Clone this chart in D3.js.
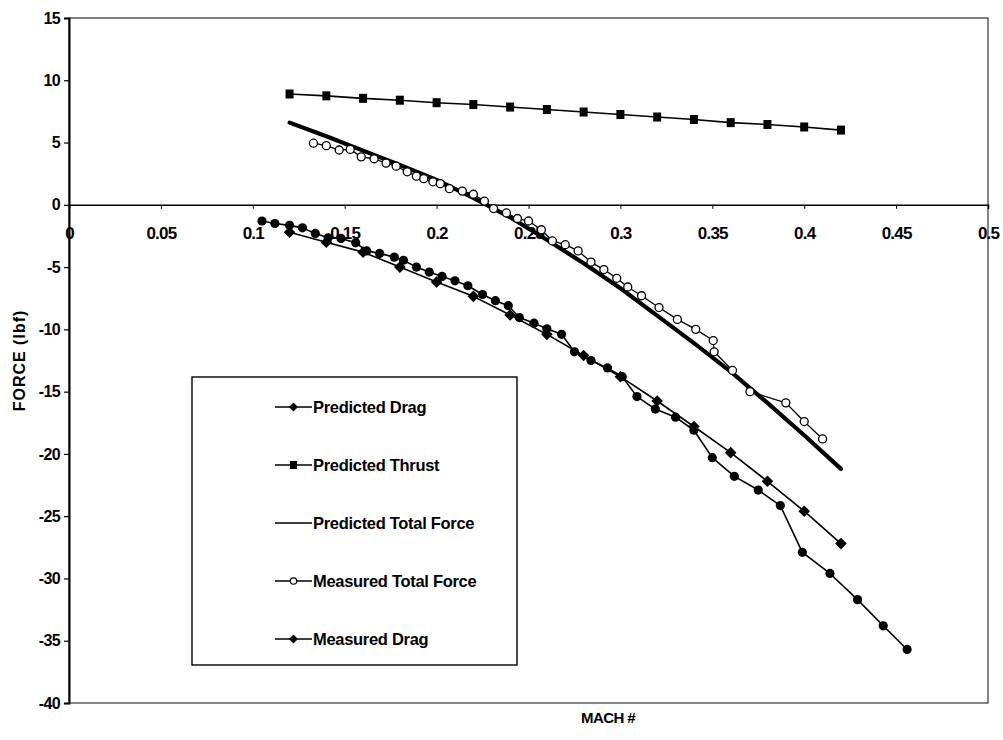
<!DOCTYPE html>
<html>
<head>
<meta charset="utf-8">
<script src="https://cdn.jsdelivr.net/npm/d3@7"></script>
<style>
  html, body { margin: 0; padding: 0; background: #fff; }
  svg text { font-family: "Liberation Sans", Arial, sans-serif; font-weight: bold; fill: #000; }
</style>
</head>
<body>
<div id="chart"></div>
<script>
// ---- data ----
const xTicks = [0, 0.05, 0.1, 0.15, 0.2, 0.25, 0.3, 0.35, 0.4, 0.45, 0.5];
const xTickLabels = ["0", "0.05", "0.1", "0.15", "0.2", "0.25", "0.3", "0.35", "0.4", "0.45", "0.5"];
const yTicks = [15, 10, 5, 0, -5, -10, -15, -20, -25, -30, -35, -40];
const yTickLabels = ["15", "10", "5", "0", "-5", "-10", "-15", "-20", "-25", "-30", "-35", "-40"];

const predMach = [0.12, 0.14, 0.16, 0.18, 0.20, 0.22, 0.24, 0.26, 0.28, 0.30, 0.32, 0.34, 0.36, 0.38, 0.40, 0.42];
const predictedThrust = [8.9, 8.75, 8.55, 8.4, 8.2, 8.05, 7.85, 7.65, 7.45, 7.25, 7.05, 6.85, 6.6, 6.45, 6.25, 6.0];
const predictedDrag = [-2.2, -3.0, -3.8, -5.0, -6.2, -7.35, -8.85, -10.4, -12.1, -13.8, -15.75, -17.8, -19.9, -22.2, -24.6, -27.2];
const predictedTotal = [6.6, 5.5, 4.35, 3.2, 2.0, 0.55, -1.0, -2.8, -4.7, -6.7, -8.9, -11.1, -13.4, -15.9, -18.5, -21.2];

const measTotalMach = [0.133, 0.140, 0.147, 0.153, 0.159, 0.166, 0.1725, 0.178, 0.184, 0.189, 0.193, 0.198, 0.202, 0.207, 0.214, 0.220, 0.226, 0.231, 0.238, 0.244, 0.250, 0.257, 0.263, 0.270, 0.277, 0.284, 0.291, 0.298, 0.304, 0.3115, 0.321, 0.331, 0.341, 0.3505, 0.351, 0.361, 0.3705, 0.390, 0.400, 0.410];
const measuredTotal = [4.95, 4.75, 4.4, 4.45, 3.85, 3.7, 3.35, 3.1, 2.65, 2.3, 2.1, 1.85, 1.7, 1.3, 1.1, 0.85, 0.3, -0.3, -0.65, -1.1, -1.3, -2.0, -2.9, -3.2, -3.7, -4.6, -5.2, -5.9, -6.6, -7.3, -8.25, -9.2, -10.0, -10.9, -11.8, -13.3, -15.0, -15.9, -17.4, -18.8];

const measDragMach = [0.105, 0.112, 0.120, 0.127, 0.134, 0.141, 0.148, 0.156, 0.162, 0.169, 0.177, 0.182, 0.189, 0.196, 0.203, 0.210, 0.217, 0.225, 0.232, 0.239, 0.245, 0.253, 0.260, 0.268, 0.275, 0.284, 0.293, 0.301, 0.309, 0.319, 0.330, 0.340, 0.350, 0.362, 0.375, 0.387, 0.399, 0.414, 0.429, 0.443, 0.456];
const measuredDrag = [-1.3, -1.5, -1.65, -1.85, -2.3, -2.65, -2.7, -3.05, -3.7, -3.9, -4.2, -4.45, -5.0, -5.4, -5.75, -6.1, -6.5, -7.2, -7.7, -8.1, -9.05, -9.5, -9.95, -10.4, -11.8, -12.5, -13.1, -13.8, -15.4, -16.4, -17.05, -18.1, -20.3, -21.8, -22.9, -24.15, -27.9, -29.6, -31.7, -33.8, -35.7];

const legendLabels = ["Predicted Drag", "Predicted Thrust", "Predicted Total Force", "Measured Total Force", "Measured Drag"];

// ---- chart ----
const W = 1003, H = 740;
const svg = d3.select("#chart").append("svg").attr("width", W).attr("height", H);

const x = d3.scaleLinear().domain([0, 0.5]).range([69, 988]);
const y = d3.scaleLinear().domain([-40, 15]).range([703, 18]);

// plot border
svg.append("rect")
  .attr("x", x(0)).attr("y", y(15))
  .attr("width", x(0.5) - x(0)).attr("height", y(-40) - y(15))
  .attr("fill", "none").attr("stroke", "#333").attr("stroke-width", 1.2);

// y axis
const yAxis = d3.axisLeft(y).tickValues(yTicks).tickSize(5).tickFormat((d, i) => yTickLabels[i]);
const gy = svg.append("g").attr("transform", `translate(${x(0)},0)`).call(yAxis);
gy.select(".domain").attr("stroke", "#000").attr("stroke-width", 2);
gy.selectAll(".tick line").attr("stroke", "#000").attr("stroke-width", 1.2);
gy.selectAll(".tick text").attr("font-size", 16).attr("letter-spacing", "-0.6px").attr("x", -9);

// x axis at y = 0
const xAxis = d3.axisBottom(x).tickValues(xTicks).tickSize(4).tickFormat((d, i) => xTickLabels[i]);
const gx = svg.append("g").attr("transform", `translate(0,${y(0)})`).call(xAxis);
gx.select(".domain").attr("stroke", "#000").attr("stroke-width", 1.6);
gx.selectAll(".tick line").attr("stroke", "#000").attr("stroke-width", 1);
gx.selectAll(".tick text").attr("font-size", 17).attr("letter-spacing", "-0.8px").attr("y", 22);

// axis titles
svg.append("text").attr("transform", `translate(25,${y(-12.5)}) rotate(-90)`)
  .attr("text-anchor", "middle").attr("font-size", 16).attr("letter-spacing", "1px").text("FORCE (lbf)");
svg.append("text").attr("x", 608).attr("y", 723)
  .attr("text-anchor", "middle").attr("font-size", 15).attr("letter-spacing", "-0.6px").text("MACH #");

const line = d3.line().x(d => x(d[0])).y(d => y(d[1]));
const zip = (a, b) => a.map((v, i) => [v, b[i]]);

const thrustPts = zip(predMach, predictedThrust);
const predDragPts = zip(predMach, predictedDrag);
const predTotalPts = zip(predMach, predictedTotal);
const measTotalPts = zip(measTotalMach, measuredTotal);
const measDragPts = zip(measDragMach, measuredDrag);

const series = svg.append("g");

function drawLine(pts, w) {
  series.append("path").attr("d", line(pts)).attr("fill", "none")
    .attr("stroke", "#000").attr("stroke-width", w).attr("stroke-linejoin", "round").attr("stroke-linecap", "round");
}
const diamondPath = s => `M0,${-s}L${s},0L0,${s}L${-s},0Z`;

// predicted thrust
drawLine(thrustPts, 1.6);
series.selectAll(null).data(thrustPts).enter().append("rect")
  .attr("x", d => x(d[0]) - 4).attr("y", d => y(d[1]) - 4.5)
  .attr("width", 8).attr("height", 9).attr("fill", "#000");

// measured drag
drawLine(measDragPts, 1.6);
series.selectAll(null).data(measDragPts).enter().append("circle")
  .attr("cx", d => x(d[0])).attr("cy", d => y(d[1])).attr("r", 4.6).attr("fill", "#000");

// predicted drag
drawLine(predDragPts, 1.6);
series.selectAll(null).data(predDragPts).enter().append("path")
  .attr("d", diamondPath(5.8)).attr("transform", d => `translate(${x(d[0])},${y(d[1])})`).attr("fill", "#000");

// predicted total force (thick)
drawLine(predTotalPts, 4.2);

// measured total force
drawLine(measTotalPts, 1.3);
series.selectAll(null).data(measTotalPts).enter().append("circle")
  .attr("cx", d => x(d[0])).attr("cy", d => y(d[1])).attr("r", 4)
  .attr("fill", "#fff").attr("stroke", "#000").attr("stroke-width", 1.3);

// legend
const lg = svg.append("g");
lg.append("rect").attr("x", 192).attr("y", 377).attr("width", 325).attr("height", 288)
  .attr("fill", "#fff").attr("stroke", "#000").attr("stroke-width", 1.4);
const legY = [407, 465, 523, 581, 639];
legendLabels.forEach((lab, i) => {
  const cy = legY[i];
  lg.append("line").attr("x1", 275).attr("x2", 312).attr("y1", cy).attr("y2", cy)
    .attr("stroke", "#000").attr("stroke-width", i === 2 ? 1.4 : 1.6);
  const mx = 293.5;
  if (i === 0 || i === 4) {
    lg.append("path").attr("d", diamondPath(4.5))
      .attr("transform", `translate(${mx},${cy})`).attr("fill", "#000");
  } else if (i === 1) {
    lg.append("rect").attr("x", mx - 3.5).attr("y", cy - 4).attr("width", 7).attr("height", 8).attr("fill", "#000");
  } else if (i === 3) {
    lg.append("circle").attr("cx", mx).attr("cy", cy).attr("r", 3.2)
      .attr("fill", "#fff").attr("stroke", "#000").attr("stroke-width", 1.2);
  }
  lg.append("text").attr("x", 313).attr("y", cy + 6).attr("font-size", 16.5)
    .attr("letter-spacing", "-0.3px").text(lab);
});
</script>
</body>
</html>
